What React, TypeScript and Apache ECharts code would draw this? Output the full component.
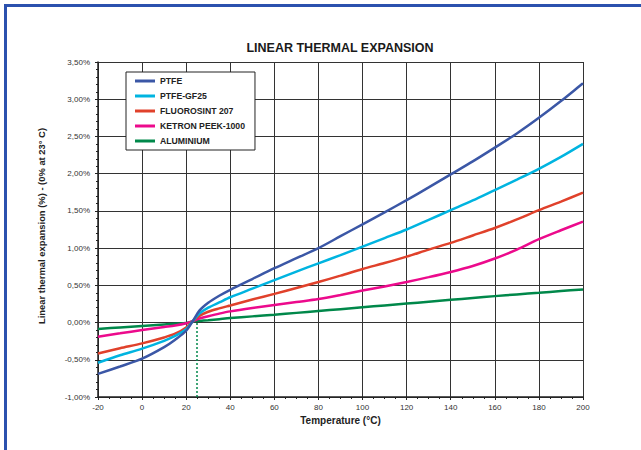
import React, { useEffect, useRef } from "react";
import * as echarts from "echarts";

const temps = [-20, -10, 0, 10, 15, 20, 23, 26, 30, 35, 40, 50, 60, 70, 80, 90, 100, 110, 120, 130, 140, 150, 160, 170, 180, 190, 200];

const ptfe = [-0.69, -0.59, -0.485, -0.33, -0.23, -0.11, 0.02, 0.16, 0.265, 0.36, 0.44, 0.585, 0.73, 0.865, 1.0, 1.16, 1.32, 1.48, 1.645, 1.815, 1.99, 2.165, 2.35, 2.54, 2.75, 2.975, 3.215];
const ptfeGf25 = [-0.54, -0.44, -0.35, -0.245, -0.18, -0.09, 0.02, 0.12, 0.2, 0.27, 0.34, 0.455, 0.57, 0.685, 0.795, 0.905, 1.02, 1.135, 1.25, 1.38, 1.51, 1.64, 1.78, 1.92, 2.065, 2.225, 2.4];
const fluorosint = [-0.415, -0.345, -0.28, -0.2, -0.15, -0.065, 0.02, 0.09, 0.145, 0.19, 0.23, 0.31, 0.385, 0.465, 0.545, 0.63, 0.72, 0.8, 0.885, 0.98, 1.07, 1.17, 1.27, 1.385, 1.51, 1.625, 1.745];
const peek = [-0.19, -0.145, -0.1, -0.06, -0.04, -0.01, 0.02, 0.055, 0.085, 0.12, 0.15, 0.195, 0.235, 0.275, 0.315, 0.37, 0.43, 0.485, 0.545, 0.61, 0.68, 0.76, 0.86, 0.98, 1.12, 1.24, 1.355];
const aluminium = [-0.085, -0.065, -0.045, -0.025, -0.015, -0.005, 0.015, 0.022, 0.032, 0.046, 0.06, 0.083, 0.105, 0.13, 0.155, 0.18, 0.205, 0.23, 0.255, 0.28, 0.305, 0.33, 0.355, 0.378, 0.4, 0.423, 0.445];

const seriesNames = ["PTFE", "PTFE-GF25", "FLUOROSINT 207", "KETRON PEEK-1000", "ALUMINIUM"];
const seriesValues = [ptfe, ptfeGf25, fluorosint, peek, aluminium];
const seriesColors = ["#3b57a6", "#00b4e0", "#e0412b", "#ec0a8c", "#00884a"];

const referenceTemp = 25;
const referenceLineRange = [-1, 0.02];

const FONT = "'Liberation Sans', Arial, sans-serif";

export default function App() {
  const ref = useRef<HTMLDivElement>(null);
  useEffect(() => {
    if (!ref.current) return;
    const chart = echarts.init(ref.current, null, { renderer: "svg" });
    const series: any[] = seriesNames.map((name, i) => ({
      name,
      type: "line",
      smooth: 0.3,
      showSymbol: false,
      symbol: "none",
      data: temps.map((t, j) => [t, seriesValues[i][j]]),
      lineStyle: { color: seriesColors[i], width: 2.5 },
      itemStyle: { color: seriesColors[i] },
      z: 10 - i,
    }));
    series[4].markLine = {
      silent: true,
      symbol: "none",
      label: { show: false },
      lineStyle: { color: "#00884a", type: [2, 2], width: 1.5 },
      data: [[{ coord: [referenceTemp, referenceLineRange[0]] }, { coord: [referenceTemp, referenceLineRange[1]] }]],
    };
    chart.setOption({
      animation: false,
      backgroundColor: "#ffffff",
      textStyle: { fontFamily: FONT },
      title: {
        text: "LINEAR THERMAL EXPANSION",
        left: 335,
        textAlign: "center",
        top: 36,
        textStyle: { fontFamily: FONT, fontSize: 12.5, fontWeight: "bold", color: "#1a1a1a" },
      },
      graphic: [
        {
          type: "rect",
          shape: { x: 5.5, y: 5.5, width: 800, height: 600 },
          style: { fill: "none", stroke: "#2b51ae", lineWidth: 3 },
          silent: true,
          z: 100,
        },
        {
          type: "text",
          x: 41,
          y: 226,
          rotation: Math.PI / 2,
          style: {
            text: "Linear thermal expansion (%) - (0% at 23° C)",
            fontFamily: FONT,
            fontSize: 9.4,
            fontWeight: "bold",
            fill: "#222",
            align: "center",
            verticalAlign: "middle",
          },
          silent: true,
        },
      ],
      legend: {
        orient: "vertical",
        left: 126,
        top: 72,
        data: seriesNames,
        icon: "rect",
        itemWidth: 20,
        itemHeight: 3,
        itemGap: 5,
        padding: [4, 10, 4, 9],
        backgroundColor: "#ffffff",
        borderColor: "#222",
        borderWidth: 1,
        borderRadius: 0,
        textStyle: { fontFamily: FONT, fontSize: 8.7, fontWeight: "bold", color: "#222", lineHeight: 10 },
        z: 20,
      },
      grid: { left: 98, right: 58, top: 62, bottom: 53, containLabel: false },
      xAxis: {
        type: "value",
        min: -20,
        max: 200,
        interval: 20,
        name: "Temperature (°C)",
        nameLocation: "middle",
        nameGap: 15,
        nameTextStyle: { fontFamily: FONT, fontSize: 10, fontWeight: "bold", color: "#222" },
        axisLine: { onZero: false, lineStyle: { color: "#222", width: 1.5 } },
        axisTick: { show: true, length: 3, lineStyle: { color: "#222" } },
        minorTick: { show: true, splitNumber: 4, length: 2, lineStyle: { color: "#222" } },
        axisLabel: { fontFamily: FONT, fontSize: 8, color: "#333", margin: 6 },
        splitLine: { show: true, lineStyle: { color: "#333", width: 1 } },
      },
      yAxis: {
        type: "value",
        min: -1,
        max: 3.5,
        interval: 0.5,
        axisLine: { onZero: false, lineStyle: { color: "#222", width: 1.5 } },
        axisTick: { show: true, length: 3, lineStyle: { color: "#222" } },
        minorTick: { show: true, splitNumber: 5, length: 2, lineStyle: { color: "#222" } },
        axisLabel: {
          fontFamily: FONT,
          fontSize: 8,
          color: "#333",
          margin: 8,
          formatter: (v: number) => v.toFixed(2).replace(".", ",") + "%",
        },
        splitLine: { show: true, lineStyle: { color: "#333", width: 1 } },
      },
      series,
    });
    return () => chart.dispose();
  }, []);
  return (
    <div
      ref={ref}
      style={{ position: "fixed", left: 0, top: 0, width: 641, height: 450, background: "#fff" }}
    />
  );
}
